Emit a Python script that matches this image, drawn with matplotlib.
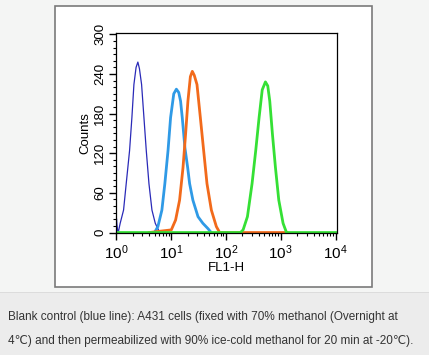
import numpy as np
import matplotlib
matplotlib.use('Agg')
import matplotlib.pyplot as plt
from matplotlib.patches import Rectangle
from matplotlib.ticker import MultipleLocator, LogLocator, NullFormatter

# histogram outlines (FL1-H, counts)
blank_x = [1.0, 1.01, 1.03, 1.06, 1.10, 1.18, 1.36, 1.52, 1.75, 1.93, 2.10, 2.30,
           2.48, 2.65, 2.90, 3.20, 3.53, 3.95, 4.48, 5.15, 6.2]
blank_y = [8, 21, 12, 3, 2, 14, 34, 74, 124, 174, 224, 250, 258, 248, 224, 174,
           124, 74, 34, 14, 0]

lblue_x = [5.0, 5.75, 6.8, 7.7, 8.8, 9.8, 11.2, 12.5, 13.8, 14.9, 16.0, 17.9,
           20.1, 21.8, 25.0, 31.0, 38.0, 47.0, 54.0]
lblue_y = [0, 9, 34, 74, 124, 174, 210, 217, 212, 199, 174, 128, 98, 74, 49, 24,
           14, 6, 0]

orange_x = [4.0, 10.1, 12.1, 14.3, 16.5, 18.4, 20.3, 22.5, 24.4, 26.5, 29.7, 34.2,
            39.3, 45.2, 54.3, 67.0, 77.0, 1300]
orange_y = [0, 4, 19, 49, 98, 149, 199, 236, 244, 238, 224, 174, 124, 74, 34, 9,
            0, 0]

green_x = [1.0, 184, 206, 247, 300, 350, 403, 460, 526, 580, 631, 706, 802, 922,
           1104, 1274, 10000]
green_y = [0, 0, 4, 24, 74, 124, 174, 216, 228, 222, 199, 149, 98, 49, 14, 0, 0]

caption = ("Blank control (blue line): A431 cells (fixed with 70% methanol (Overnight at\n"
           "4\u2103) and then permeabilized with 90% ice-cold methanol for 20 min at -20\u2103).")

plt.rcParams['font.family'] = ['Liberation Sans', 'DejaVu Sans']
plt.rcParams['mathtext.fontset'] = 'custom'
plt.rcParams['mathtext.rm'] = 'Liberation Sans Narrow'

fig = plt.figure(figsize=(4.29, 3.55), dpi=100)
fig.patch.set_facecolor('#f4f5f4')
fig.patches.append(Rectangle((0, 0), 1, 0.175, transform=fig.transFigure,
                             facecolor='#ececec', edgecolor='none', zorder=-2))
fig.patches.append(Rectangle((0, 0.175), 1, 0.003, transform=fig.transFigure,
                             facecolor='#dcdcdc', edgecolor='none', zorder=-2))
fig.patches.append(Rectangle((0.128, 0.192), 0.739, 0.792, transform=fig.transFigure,
                             facecolor='white', edgecolor='#7a7a7a', linewidth=1.2, zorder=-1))

ax = fig.add_axes([0.2704, 0.345, 0.515, 0.562])
ax.set_zorder(2)
ax.plot(blank_x, blank_y, color='#2a2ab8', lw=0.9)
ax.plot(lblue_x, lblue_y, color='#2f9ae6', lw=2.0)
ax.plot(orange_x, orange_y, color='#f26a1b', lw=2.0)
ax.plot(green_x, green_y, color='#35e035', lw=2.0)

ax.set_xscale('log')
ax.set_xlim(0.99, 1.06e4)
ax.set_ylim(0, 302)
ax.yaxis.set_major_locator(MultipleLocator(60))
ax.yaxis.set_minor_locator(MultipleLocator(10))
ax.xaxis.set_major_locator(LogLocator(base=10, numticks=10))
ax.xaxis.set_minor_locator(LogLocator(base=10, subs=np.arange(2, 10), numticks=20))
ax.xaxis.set_minor_formatter(NullFormatter())
ax.tick_params(which='major', direction='out', length=5, width=1, labelsize=9.5, pad=2)
ax.tick_params(axis='x', which='major', labelsize=11, pad=2.5)
ax.tick_params(which='minor', direction='out', length=2.5, width=0.8)
for lab in ax.get_yticklabels():
    lab.set_rotation(90)
    lab.set_va('center')
    lab.set_family(['Liberation Sans Narrow', 'Liberation Sans'])
ax.set_ylabel('Counts', fontsize=9.5, labelpad=2)
ax.set_xlabel('FL1-H', fontsize=9.5, labelpad=0)
for s in ax.spines.values():
    s.set_linewidth(0.9)

fig.text(0.019, 0.073, caption, fontsize=8.5, color='#333333', va='center',
         linespacing=2.35)

fig.savefig('out.png', dpi=100, facecolor=fig.get_facecolor())
